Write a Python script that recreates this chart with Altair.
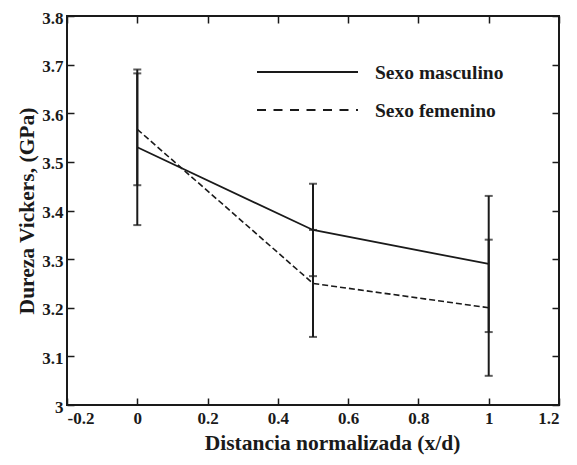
import altair as alt
import pandas as pd

# ---- data ----
x_pos = [0.0, 0.5, 1.0]
masc_val = [3.53, 3.36, 3.29]
masc_err = [0.16, 0.095, 0.14]
fem_val = [3.567, 3.25, 3.20]
fem_err = [0.115, 0.11, 0.14]

x_ticks = [-0.2, 0.0, 0.2, 0.4, 0.6, 0.8, 1.0, 1.2]
y_ticks = [3.0, 3.1, 3.2, 3.3, 3.4, 3.5, 3.6, 3.7, 3.8]

legend_labels = ["Sexo masculino", "Sexo femenino"]

rows = []
for s, vals, errs in (("Sexo masculino", masc_val, masc_err), ("Sexo femenino", fem_val, fem_err)):
    for x, v, e in zip(x_pos, vals, errs):
        rows.append({"serie": s, "x": x, "y": v, "lo": round(v - e, 4), "hi": round(v + e, 4)})
df = pd.DataFrame(rows)
masc = df[df.serie == "Sexo masculino"]
fem = df[df.serie == "Sexo femenino"]

INK = "#1a1a1a"
FONT = "Liberation Serif"
W, H = 492, 389

xs = alt.Scale(domain=[-0.2, 1.2], nice=False, zero=False)
ys = alt.Scale(domain=[3.0, 3.8], nice=False, zero=False)
lab = "replace(format(datum.value, '.1~f'), '\u2212', '-')"

common_axis = dict(domain=False, grid=False, tickColor=INK, tickWidth=1.5,
                   labelFont=FONT, labelFontSize=17, labelFontWeight="bold", labelColor=INK,
                   titleFont=FONT, titleFontSize=21.5, titleFontWeight="bold", titleColor=INK)

x_main = alt.Axis(orient="bottom", values=x_ticks, ticks=False, labelPadding=5, labelExpr=lab,
                  title="Distancia normalizada (x/d)", titleX=265, titleY=44,
                  titleBaseline="alphabetic", titleAlign="center", **common_axis)
y_main = alt.Axis(orient="left", values=y_ticks, ticks=False, labelPadding=4, labelExpr=lab,
                  labelOffset=2,
                  title="Dureza Vickers, (GPa)", titleX=-34, titleY=H / 2, titleAngle=-90,
                  titleBaseline="alphabetic", titleAlign="center", **common_axis)

x_tick_b = alt.Axis(orient="bottom", values=x_ticks, labels=False, title=None, tickSize=7, offset=-7, **common_axis)
y_tick_l = alt.Axis(orient="left", values=y_ticks, labels=False, title=None, tickSize=7, offset=-7, **common_axis)
x_tick_t = alt.Axis(orient="top", values=x_ticks, labels=False, title=None, tickSize=7, offset=-7, **common_axis)
y_tick_r = alt.Axis(orient="right", values=y_ticks, labels=False, title=None, tickSize=7, offset=-7, **common_axis)

line_m = alt.Chart(masc).mark_line(color=INK, strokeWidth=1.8).encode(
    x=alt.X("x:Q", scale=xs, axis=x_main),
    y=alt.Y("y:Q", scale=ys, axis=y_main),
)
line_f = alt.Chart(fem).mark_line(color=INK, strokeWidth=1.6, strokeDash=[6, 3]).encode(
    x=alt.X("x:Q", scale=xs, axis=x_tick_b),
    y=alt.Y("y:Q", scale=ys, axis=y_tick_l),
)
err = alt.Chart(df).mark_rule(color=INK, strokeWidth=2).encode(
    x=alt.X("x:Q", scale=xs, axis=x_tick_t),
    y=alt.Y("lo:Q", scale=ys, axis=y_tick_r),
    y2="hi:Q",
)
cap_lo = alt.Chart(df).mark_tick(color=INK, orient="horizontal", size=8, thickness=2).encode(
    x=alt.X("x:Q", scale=xs, axis=None), y=alt.Y("lo:Q", scale=ys, axis=None))
cap_hi = alt.Chart(df).mark_tick(color=INK, orient="horizontal", size=8, thickness=2).encode(
    x=alt.X("x:Q", scale=xs, axis=None), y=alt.Y("hi:Q", scale=ys, axis=None))

leg_df = pd.DataFrame({"label": legend_labels})
leg_m_line = alt.Chart(leg_df.iloc[[0]]).mark_rule(color=INK, strokeWidth=2).encode(
    x=alt.value(190), x2=alt.value(291), y=alt.value(56))
leg_f_line = alt.Chart(leg_df.iloc[[1]]).mark_rule(color=INK, strokeWidth=2, strokeDash=[9, 7.5]).encode(
    x=alt.value(190), x2=alt.value(291), y=alt.value(94))
leg_m_text = alt.Chart(leg_df.iloc[[0]]).mark_text(font=FONT, fontSize=19.5, fontWeight="bold", color=INK,
                                                  align="left", baseline="middle").encode(
    x=alt.value(308), y=alt.value(57), text="label:N")
leg_f_text = alt.Chart(leg_df.iloc[[1]]).mark_text(font=FONT, fontSize=19.5, fontWeight="bold", color=INK,
                                                  align="left", baseline="middle").encode(
    x=alt.value(308), y=alt.value(95), text="label:N")

chart = alt.layer(line_m, line_f, err, cap_lo, cap_hi,
                  leg_m_line, leg_f_line, leg_m_text, leg_f_text).resolve_axis(
    x="independent", y="independent"
).properties(
    width=W, height=H,
    autosize=alt.AutoSizeParams(type="none"),
    padding={"left": 59, "top": 8, "right": 10, "bottom": 52},
    background="white",
).configure_view(stroke=INK, strokeWidth=2)

chart.save("out.html", embed_options={"renderer": "svg", "actions": False})
